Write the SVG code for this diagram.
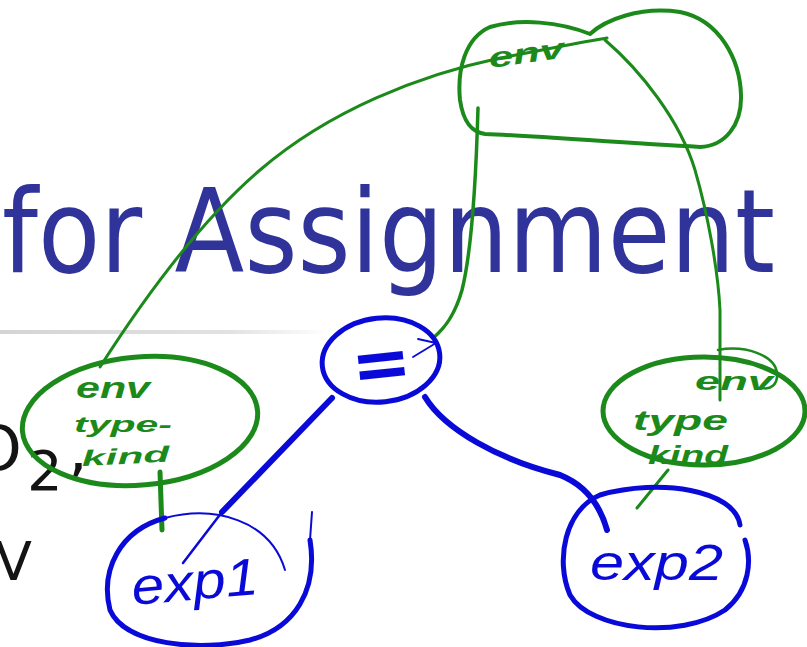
<svg xmlns="http://www.w3.org/2000/svg" width="807" height="647" viewBox="0 0 807 647">
<style>
.title{font-family:"DejaVu Sans",sans-serif;fill:#303399}
.slide{font-family:"DejaVu Sans",sans-serif;fill:#141414}
.g{fill:none;stroke:#1b8a1b;stroke-linecap:round;stroke-linejoin:round}
.b{fill:none;stroke:#0a0ad8;stroke-linecap:round;stroke-linejoin:round}
.gt{font-family:"Liberation Sans",sans-serif;font-style:italic;font-weight:bold;fill:#1b8a1b}
.bt{font-family:"Liberation Sans",sans-serif;font-style:italic;fill:#0a0ad8}
</style>
<defs>
<linearGradient id="rule" x1="0" y1="0" x2="1" y2="0">
<stop offset="0" stop-color="#d4d4d4"/>
<stop offset="0.7" stop-color="#e2e2e2"/>
<stop offset="1" stop-color="#ffffff"/>
</linearGradient>
</defs>
<rect width="807" height="647" fill="#ffffff"/>
<g id="slide">
<text class="title" x="2" y="272" font-size="115" textLength="773" lengthAdjust="spacingAndGlyphs">for Assignment</text>
<rect x="0" y="330" width="330" height="4" fill="url(#rule)"/>
<text class="slide" x="-27" y="470" font-size="62">O</text>
<text class="slide" x="27" y="490" font-size="56">2</text>
<text class="slide" x="68" y="471" font-size="62">,</text>
<text class="slide" x="-5" y="580" font-size="54">V</text>
</g>
<g id="connectors">
<path class="g" stroke-width="3" d="M100,367 C130,320 190,230 260,170 C330,110 420,75 500,58 C545,50 580,42 607,38"/>
<path class="g" stroke-width="3.5" d="M478,108 C476,180 472,250 462,290 C455,315 445,328 433,338"/>
<path class="g" stroke-width="3" d="M605,40 C640,70 680,120 695,170 C708,215 718,270 720,310 L720,400"/>
<path class="g" stroke-width="5" d="M160,472 L162,530"/>
<path class="g" stroke-width="3" d="M668,470 L637,508"/>
<path class="b" stroke-width="6" d="M332,398 L222,512"/>
<path class="b" stroke-width="2.5" d="M222,512 L183,563"/>
<path class="b" stroke-width="6" d="M425,397 C445,430 500,460 560,475 C585,485 600,505 607,530"/>
</g>
<g id="node-env">
<path class="g" stroke-width="4" d="M590,34 C560,22 520,18 490,27 C465,38 457,70 460,100 C463,120 470,132 485,134 C540,136 620,143 700,147 C725,146 742,125 741,95 C740,60 720,20 680,12 C640,6 605,20 590,34 Z"/>
<text class="gt" x="490" y="68" font-size="28" textLength="76" lengthAdjust="spacingAndGlyphs" transform="rotate(-8 490 68)">env</text>
</g>
<g id="node-left">
<ellipse class="g" stroke-width="5" cx="140" cy="421" rx="118" ry="64" transform="rotate(-5 140 421)"/>
<text class="gt" x="76" y="398" font-size="30" textLength="74" lengthAdjust="spacingAndGlyphs">env</text>
<text class="gt" x="74" y="432" font-size="22" textLength="98" lengthAdjust="spacingAndGlyphs">type-</text>
<text class="gt" x="82" y="466" font-size="22" textLength="88" lengthAdjust="spacingAndGlyphs" transform="rotate(-3 82 466)">kind</text>
</g>
<g id="node-right">
<ellipse class="g" stroke-width="5" cx="704" cy="411" rx="101" ry="54"/>
<path class="g" stroke-width="2.5" d="M718,350 C745,345 775,355 777,373 C778,385 770,390 762,388"/>
<text class="gt" x="695" y="390" font-size="26" textLength="78" lengthAdjust="spacingAndGlyphs">env</text>
<text class="gt" x="633" y="430" font-size="28" textLength="95" lengthAdjust="spacingAndGlyphs">type</text>
<text class="gt" x="648" y="464" font-size="26" textLength="80" lengthAdjust="spacingAndGlyphs">kind</text>
</g>
<g id="node-assign">
<ellipse class="b" stroke-width="5" cx="381" cy="360" rx="59" ry="42" transform="rotate(-6 381 360)"/>
<text x="381" y="388" font-family="DejaVu Sans, sans-serif" font-weight="bold" font-size="72" fill="#0a0ad8" text-anchor="middle" transform="rotate(-6 381 362)">=</text>
<path class="b" stroke-width="1.8" d="M413,357 L436,343 L418,339"/>
</g>
<g id="node-exp1">
<path class="b" stroke-width="5" d="M165,518 C120,530 100,570 110,610 C125,645 200,652 250,640 C295,628 318,590 310,540"/>
<path class="b" stroke-width="2" d="M165,518 C215,505 270,520 285,570"/>
<path class="b" stroke-width="2" d="M310,540 L312,512"/>
<text class="bt" x="133" y="605" font-size="52" textLength="127" lengthAdjust="spacingAndGlyphs" transform="rotate(-5 133 605)">exp1</text>
</g>
<g id="node-exp2">
<path class="b" stroke-width="5" d="M740,525 C735,490 660,478 600,495 C565,510 555,560 570,595 C590,630 680,640 725,610 C750,590 752,560 745,540"/>
<text class="bt" x="590" y="580" font-size="50" textLength="133" lengthAdjust="spacingAndGlyphs">exp2</text>
</g>
</svg>
